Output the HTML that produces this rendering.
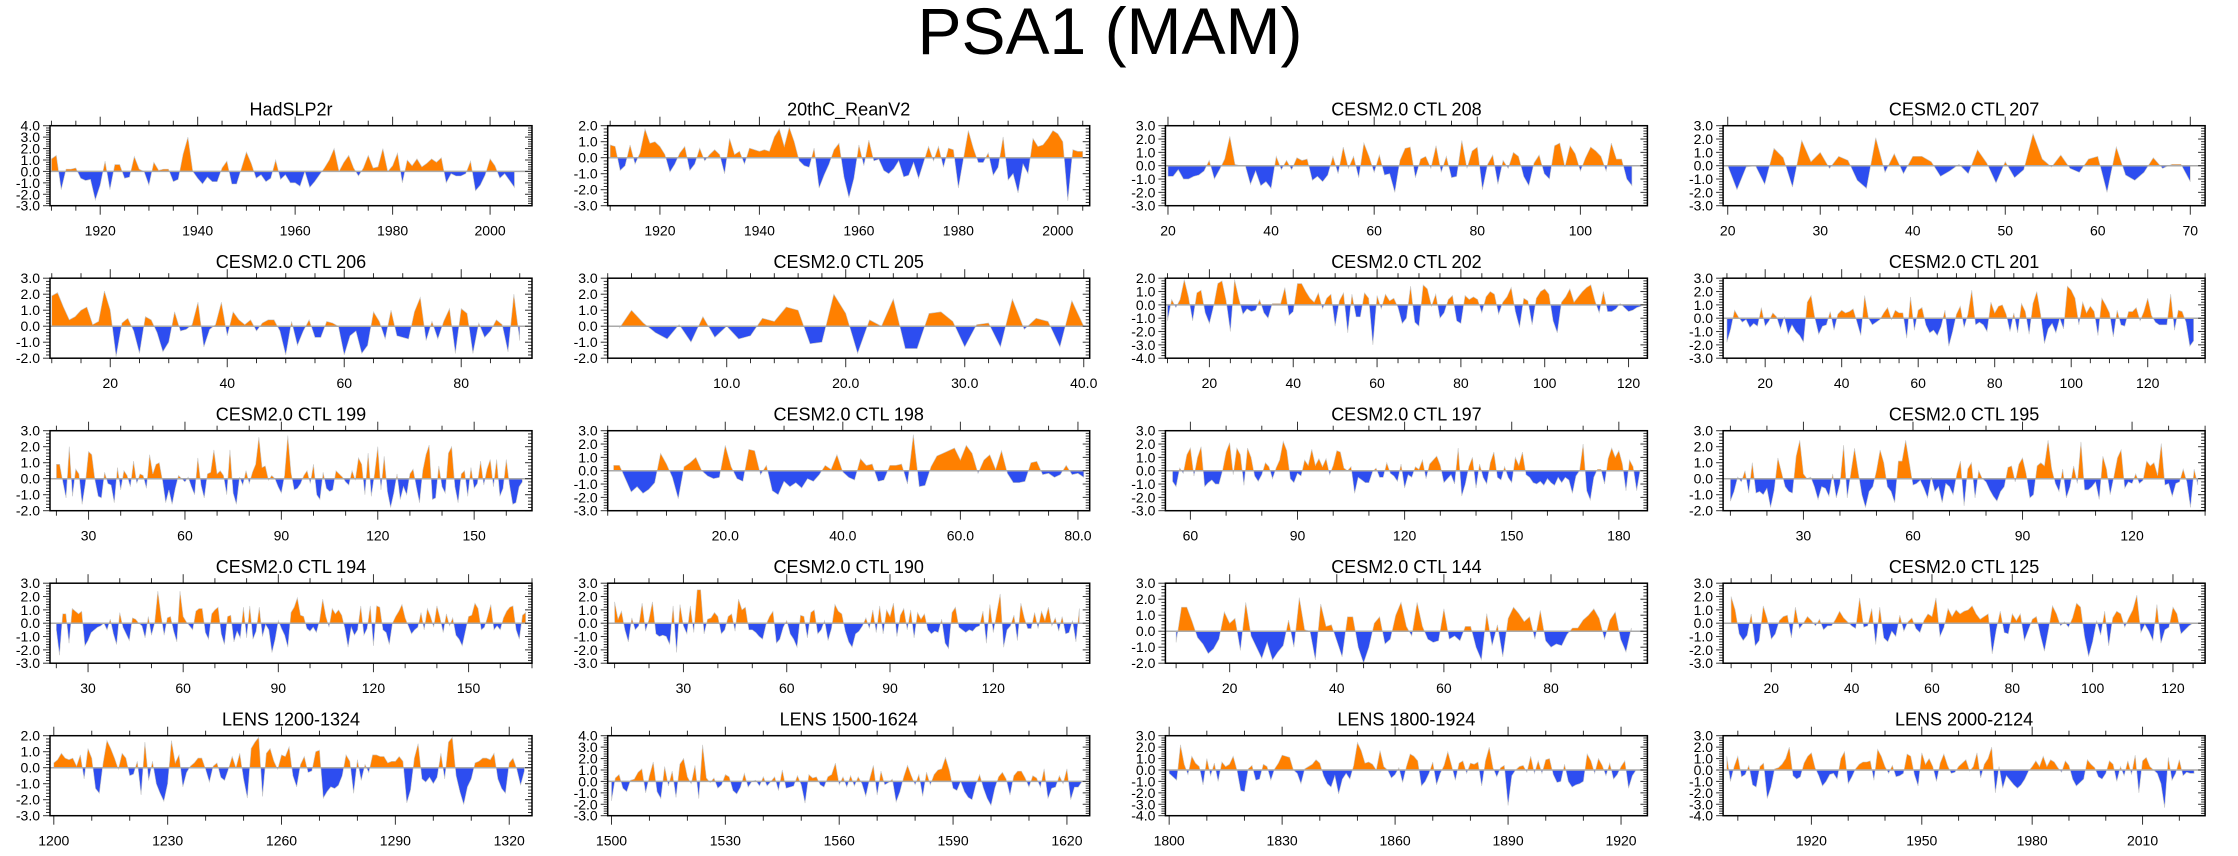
<!DOCTYPE html>
<html><head><meta charset="utf-8"><style>
html,body{margin:0;padding:0;background:#fff}
svg{display:block;font-family:"Liberation Sans",Arial,sans-serif}
</style></head><body>
<svg id="chart" width="2238" height="856" viewBox="0 0 2238 856" xmlns="http://www.w3.org/2000/svg">
<text x="1110" y="54" font-size="66" text-anchor="middle">PSA1 (MAM)</text>
<g id="panels"></g>
</svg>
<script>
// ---- data ----
const titles=["HadSLP2r","20thC_ReanV2","CESM2.0 CTL 208","CESM2.0 CTL 207","CESM2.0 CTL 206","CESM2.0 CTL 205","CESM2.0 CTL 202","CESM2.0 CTL 201","CESM2.0 CTL 199","CESM2.0 CTL 198","CESM2.0 CTL 197","CESM2.0 CTL 195","CESM2.0 CTL 194","CESM2.0 CTL 190","CESM2.0 CTL 144","CESM2.0 CTL 125","LENS 1200-1324","LENS 1500-1624","LENS 1800-1924","LENS 2000-2124"];
const startYears=[1910,1910,20,20,10,1,10,10,20,1,55,10,20,10,10,10,1200,1500,1800,1897];
const xMins=[1909.7,1909.5,19.5,19.5,9.7,0,9.5,9,18,0,53,8,18,8,8,8,1199,1499,1799,1896];
const xMaxs=[2008.6,2006.4,113,71.6,92.1,40.5,124.5,135,168,82,188,140,170,148,98,128,1326,1626,1927,2027];
const yMins=[-3,-3,-3,-3,-2,-2,-4,-3,-2,-3,-3,-2,-3,-3,-2,-3,-3,-3,-4,-4];
const yMaxs=[4,2,3,3,3,3,2,3,3,3,3,3,3,3,3,3,2,4,3,3];
const xTickLabels=[
 [1920,1940,1960,1980,2000],[1920,1940,1960,1980,2000],[20,40,60,80,100],[20,30,40,50,60,70],
 [20,40,60,80],[10,20,30,40],[20,40,60,80,100,120],[20,40,60,80,100,120],
 [30,60,90,120,150],[20,40,60,80],[60,90,120,150,180],[30,60,90,120],
 [30,60,90,120,150],[30,60,90,120],[20,40,60,80],[20,40,60,80,100,120],
 [1200,1230,1260,1290,1320],[1500,1530,1560,1590,1620],[1800,1830,1860,1890,1920],[1920,1950,1980,2010]];
const xLabelDecimals=[0,0,0,0,0,1,0,0,0,1,0,0,0,0,0,0,0,0,0,0];

const vHad=[1.1,1.4,-1.6,0.2,0.2,0.3,-0.6,-0.8,-0.7,-2.5,-1.2,0.9,-1.6,0.6,0.6,-0.6,-0.5,1.3,0.2,0.0,-1.2,0.8,0.1,0.2,0.2,-0.9,-0.7,1.5,3.0,0.0,-0.6,-1.1,-0.5,-0.9,-0.9,0.3,0.9,-1.1,-1.1,0.3,1.7,0.7,-0.6,-0.3,-0.9,-0.6,1.0,-0.7,-0.3,-1.0,-1.0,-1.3,0.0,-1.4,-0.9,-0.3,0.3,1.0,2.0,0.0,0.8,1.4,0.3,-0.4,0.3,1.4,0.3,0.4,2.0,0.0,0.5,1.6,-1.0,1.0,0.5,1.1,0.4,0.7,1.1,0.8,1.2,-1.0,-0.2,-0.4,-0.4,-0.2,0.9,-1.7,-1.2,-0.3,1.1,0.5,-0.6,-0.2,-0.8,-1.4];
const v20C=[0.8,0.7,-0.8,-0.5,0.8,-0.4,0.3,1.8,0.9,1.0,0.7,0.2,-0.9,-0.4,0.3,0.7,-0.8,-0.4,0.6,-0.2,0.2,0.5,0.2,-1.0,1.2,0.2,0.4,-0.4,0.6,0.5,0.4,0.5,0.4,1.3,1.8,0.7,1.9,1.0,-0.2,-0.5,-0.6,0.6,-1.9,-1.1,-0.4,0.5,0.9,-1.2,-2.5,-1.3,0.8,-0.5,1.1,-0.2,-0.1,-0.8,-1.0,-0.7,-0.2,-1.2,-1.1,-0.3,-1.3,-0.3,0.7,-0.2,0.7,-0.6,0.6,0.5,-1.9,-0.1,1.7,0.6,-0.3,-0.3,0.3,-1.1,-0.6,1.3,-1.4,-1.0,-2.2,-0.4,-1.0,1.2,0.7,0.8,1.2,1.7,1.5,1.0,-2.7,0.5,0.4,0.4];
const v208=[-0.8,-0.8,-0.3,-1.0,-1.0,-0.8,-0.7,-0.4,0.4,-1.0,-0.3,0.5,2.2,0.1,0.0,0.0,-1.4,-0.4,-1.5,-1.2,-1.7,0.7,-0.3,0.4,-0.3,0.6,0.4,0.5,-1.1,-0.8,-1.2,-0.7,0.7,-0.6,1.4,-0.2,0.7,-0.9,1.7,0.7,-0.5,0.8,-0.7,-0.6,-2.0,0.4,1.3,1.4,-0.9,0.5,0.7,-0.2,1.5,-0.5,0.7,-0.9,-0.8,1.9,-0.2,1.1,1.4,-1.8,0.1,0.8,-1.4,0.4,-0.2,1.0,0.7,-0.8,-1.5,0.2,0.8,-0.6,-1.0,1.5,1.7,-0.1,1.5,0.9,-0.4,0.6,1.4,1.1,0.7,-0.4,1.7,0.5,0.5,-1.0,-1.5];
const v207=[0.0,-1.8,-0.1,0.0,-1.4,1.3,0.6,-1.6,1.9,0.3,1.0,-0.2,0.7,0.4,-1.1,-1.7,2.1,-0.5,0.9,-0.6,0.7,0.7,0.3,-0.8,-0.4,0.1,-0.6,1.2,0.2,-1.3,0.3,-0.9,-0.3,2.4,0.5,-0.1,0.8,-0.2,-0.5,0.5,0.7,-2.0,1.4,-0.7,-1.1,-0.5,0.6,-0.2,0.1,0.1,-1.2];
const v206=[1.9,2.1,1.2,0.4,0.6,1.0,1.2,0.1,0.3,2.2,1.0,-1.9,0.2,0.5,-0.3,-1.7,0.6,0.4,-0.4,-1.6,-1.0,0.9,-0.3,-0.2,0.1,1.5,-1.3,-0.2,0.1,1.5,-0.6,0.9,0.4,0.1,0.4,-0.3,0.2,0.4,0.4,-0.3,-1.8,0.3,-1.2,-0.3,0.4,-0.7,-0.7,0.3,0.2,0.0,-1.8,-0.6,-0.3,-1.7,-1.2,0.9,0.3,-0.8,1.0,-0.6,-0.7,-0.8,0.9,1.8,-0.9,0.3,-0.8,0.3,1.1,-1.7,1.1,0.8,-1.7,0.2,-0.7,-0.3,0.4,0.1,-1.6,2.0,-0.9];
const v205=[-0.1,1.0,0.2,-0.4,-0.8,0.1,-1.0,0.6,-0.7,0.0,-0.8,-0.6,0.5,0.3,1.2,1.0,-1.1,-1.0,2.0,0.8,-1.7,0.4,0.0,1.7,-1.4,-1.4,0.8,0.9,0.3,-1.3,0.1,0.2,-1.3,1.7,-0.2,0.5,0.3,-1.3,1.6,0.0];
const v202=[-1.2,0.4,-0.2,0.4,1.9,0.6,-1.2,0.9,1.1,-0.6,-1.4,-0.1,1.6,1.8,0.3,-2.0,1.9,0.5,-0.7,-0.3,-0.5,-0.4,0.4,-0.6,-1.0,0.1,0.1,0.1,1.3,-0.8,-0.5,1.6,1.6,1.0,0.5,0.2,0.9,-0.3,0.5,0.8,-1.6,0.3,0.9,-2.1,0.8,-0.9,-0.9,0.9,0.5,-3.0,0.7,-0.3,0.8,0.3,0.5,-0.2,-1.4,-1.0,1.4,-1.3,-1.6,1.5,1.2,-0.1,0.8,-1.0,-0.6,0.4,0.7,-1.2,-1.4,0.7,0.4,0.6,0.4,-0.6,0.6,1.0,0.8,-0.7,0.2,0.6,1.3,-0.5,-1.7,0.5,0.3,-1.5,0.5,1.0,1.2,0.8,-1.2,-2.1,0.2,0.6,1.2,0.2,0.6,1.0,1.3,1.5,0.3,-0.6,1.0,-0.5,-0.5,-0.3,0.1,-0.2,-0.5,-0.4,-0.2,-0.1];
const v201=[-1.8,-0.8,0.6,0.1,-0.3,-0.1,-0.7,-0.4,-0.6,0.8,-0.6,-0.2,0.4,0.1,-0.8,0.1,-1.2,-0.5,-1.0,-1.3,-1.8,1.2,1.7,0.0,-1.2,-0.6,-0.5,0.5,-0.9,0.3,0.6,0.4,0.5,0.7,-0.3,-1.3,1.7,0.0,-0.5,-0.3,-0.1,0.4,0.8,-0.1,0.6,0.4,0.4,-1.5,1.6,-0.9,0.6,0.8,-0.5,-1.1,-0.9,-1.3,-0.6,0.6,-2.1,-1.0,0.3,0.9,-0.7,0.3,2.1,-0.5,-0.3,-0.5,-1.0,1.2,0.4,0.9,1.0,0.3,-1.0,0.4,-1.1,1.1,0.5,-1.2,1.1,2.0,0.3,-1.9,-0.8,-0.4,-1.1,0.0,-0.8,2.4,2.1,1.5,-0.5,1.2,0.4,0.9,0.5,-1.3,1.5,1.0,0.4,-1.4,0.6,-0.5,-0.6,0.5,0.5,0.8,-0.2,0.5,1.5,0.2,-0.3,-0.5,-0.5,-0.5,1.8,-0.9,0.6,0.5,-0.3,-2.1,-1.7];
const v199=[0.9,0.9,-0.2,-1.2,2.0,-1.1,0.6,0.3,-1.6,-0.3,1.7,1.5,-0.1,-1.1,-1.2,0.4,-0.3,-0.4,-1.5,0.7,-0.7,0.5,0.2,-0.5,1.1,-0.3,0.3,0.2,-0.6,1.5,0.3,0.9,1.0,-0.1,-1.5,-0.7,-1.6,-0.6,0.2,0.0,-0.2,0.1,-0.5,-1.0,1.3,-0.4,-1.2,0.3,0.4,1.8,0.3,0.5,0.2,-1.0,1.8,-0.9,-1.6,0.1,-0.4,0.5,-0.3,0.4,0.9,2.6,0.7,0.8,-0.1,0.2,0.0,-0.5,-0.9,0.2,2.7,0.4,-0.7,-0.6,-0.3,0.2,0.5,-0.3,0.9,-1.0,-1.3,0.4,-0.6,-0.8,-0.7,0.5,0.3,0.1,-0.2,-0.4,0.5,-0.1,1.3,0.9,-1.0,1.6,-1.1,0.3,2.0,-0.7,1.4,-0.8,-1.8,-0.9,0.3,-1.3,-0.5,-1.0,0.3,0.6,-0.5,-1.5,0.5,1.5,2.1,-1.3,-1.2,0.8,-0.5,-0.9,1.6,2.0,-0.5,-1.5,0.3,0.5,-1.1,0.7,-0.6,-0.3,1.1,-0.4,0.6,1.2,-0.5,1.2,-1.1,-0.6,1.2,-0.4,-1.6,-1.5,-0.5,-0.2];
const v198=[0.4,0.4,-0.6,-1.6,-1.2,-1.7,-1.4,-0.9,1.3,0.5,-0.5,-2.1,0.3,0.6,1.0,0.0,-0.4,-0.6,-0.5,1.9,0.3,-0.6,-0.8,1.6,1.5,-0.3,0.4,-1.5,-1.8,-0.8,-1.2,-0.9,-1.3,-0.6,-0.8,-0.3,0.4,0.1,1.2,-0.1,-0.5,-0.7,0.9,0.4,0.5,-0.8,-0.7,0.4,0.4,0.5,-1.0,2.7,-1.2,-1.1,0.3,1.1,1.3,1.5,1.7,0.8,1.9,1.3,-0.2,0.8,1.2,0.1,1.5,-0.2,-0.9,-0.9,-0.8,0.6,0.7,-0.3,-0.2,-0.5,-0.3,0.4,-0.3,-0.2,-0.5];
const v197=[-0.8,-1.2,0.2,-0.2,1.2,1.7,-0.4,1.0,1.8,-1.2,-0.9,-0.7,-1.0,-1.0,0.0,1.4,2.1,-0.3,1.7,1.2,-1.1,1.7,1.0,-0.4,-0.8,-0.3,0.6,0.3,-0.6,0.2,0.8,2.2,1.5,-0.6,-0.9,-0.2,-0.4,0.8,0.4,1.6,0.4,0.9,0.3,0.9,-0.3,0.4,1.5,1.4,0.2,0.0,0.3,-1.7,-0.5,-0.7,-0.9,-0.9,-0.1,0.2,-0.5,-0.5,0.6,-0.2,-0.4,-0.8,0.5,-1.3,-0.3,-0.5,0.3,0.1,0.8,-0.6,0.5,0.8,1.1,0.4,-0.9,-0.6,-0.3,-1.0,1.7,-1.9,-1.0,0.3,1.0,-1.3,0.5,-0.5,-1.0,0.6,1.4,-0.5,-0.7,0.3,-0.5,-0.9,1.0,0.4,1.4,-0.3,-0.5,-0.9,-1.0,-0.8,-1.1,-0.6,-0.9,-1.1,-0.5,-0.9,-0.5,-0.7,-1.7,-0.4,0.0,2.0,-1.5,-2.2,-0.5,0.1,0.1,-1.0,0.9,1.7,1.0,1.5,0.5,-1.5,0.8,0.3,-1.5,0.1];
const v195=[-1.4,-0.8,0.1,-0.2,0.5,-0.9,1.0,-0.9,-0.8,-1.0,-0.6,-1.8,-0.7,1.3,0.4,-0.5,-0.8,-0.9,1.4,2.4,0.3,0.0,0.1,-0.5,-1.3,-0.5,-0.6,-1.1,0.3,-1.2,-0.3,2.1,-1.2,0.4,1.9,0.4,-1.0,-1.8,-0.8,-0.5,0.5,1.8,1.0,-0.5,-0.8,-1.5,1.1,1.1,2.4,1.0,-0.4,-0.3,-0.1,-0.6,-1.2,0.1,-0.8,-0.5,-1.5,-0.3,-0.5,-1.0,0.3,1.1,-1.7,0.6,1.0,-1.2,0.5,0.0,-0.2,-0.7,-1.1,-1.4,-0.8,-0.5,0.7,0.8,-0.2,0.9,1.3,0.3,-1.2,-1.0,0.8,1.0,0.8,2.4,0.6,-0.3,-0.8,0.6,-1.2,-0.5,0.8,-0.3,2.3,-0.7,-0.7,-0.5,-0.2,-1.3,1.4,0.6,-1.0,0.1,1.3,1.8,-0.6,-0.2,-0.3,0.3,-0.3,-0.1,1.1,0.8,1.0,0.2,2.2,-0.4,-0.3,-1.1,-0.3,-0.2,0.6,-0.2,-1.8,0.6,-0.4];
const v194=[-0.5,-2.4,0.7,0.7,-1.5,1.1,0.9,0.7,0.9,-1.7,-1.3,-0.7,-0.5,-0.3,-0.2,0.0,-0.5,0.3,-0.8,-1.6,0.8,-0.3,-0.8,-1.3,0.4,0.3,0.0,-0.2,-1.1,0.5,-0.9,0.0,2.4,0.6,-0.9,0.4,0.5,-0.6,-1.4,2.4,0.5,0.1,-0.2,-0.5,0.9,1.1,1.1,-0.7,-1.2,0.7,1.0,1.2,-0.8,-1.6,0.5,0.6,-1.4,-0.6,-1.1,1.2,-1.1,1.3,-1.2,-0.6,1.2,-1.0,-0.1,-0.5,-2.2,-1.2,0.2,-0.4,-0.9,-1.8,0.8,1.2,1.9,0.6,0.5,-0.4,-0.6,-0.3,-0.7,0.2,1.8,0.5,-0.3,1.1,0.7,1.0,0.6,-0.4,-1.8,-0.3,-0.9,-0.5,1.3,-0.9,-0.4,1.3,-1.7,1.3,1.2,-0.5,-0.7,-1.6,0.0,0.5,0.9,1.4,0.4,-0.2,-0.8,-0.5,-0.3,0.8,-0.5,1.1,0.5,-0.3,1.3,0.4,-0.7,0.7,-0.2,0.4,-0.9,-1.2,-1.7,-0.6,0.5,0.6,1.5,1.1,-0.5,-0.3,0.5,1.4,-0.5,-0.2,-0.5,0.4,0.9,1.2,1.3,-0.5,-1.2,0.6,0.8];
const v190=[1.6,0.3,0.9,-0.5,-1.4,0.4,-0.5,-0.2,1.5,-0.6,0.3,1.6,-0.8,-1.0,-0.9,-1.0,-1.6,1.3,-2.2,1.4,-0.2,-0.8,1.3,-0.7,2.5,2.5,-0.8,0.3,0.4,0.8,0.5,-0.8,-0.5,0.5,0.7,-0.6,1.8,1.0,1.2,-0.5,-0.5,-0.7,-1.0,-1.2,-0.1,0.5,0.9,-1.5,-1.2,-0.3,0.2,-0.8,-1.2,-1.8,0.6,0.5,-1.1,0.8,1.0,-0.8,-0.5,0.2,-1.3,-0.4,1.4,0.9,0.7,-0.6,-1.4,-1.8,-0.8,-0.6,-0.2,0.4,-0.4,1.0,-0.7,1.3,-0.8,1.0,0.5,1.5,-1.0,0.6,1.1,-0.5,1.0,-1.1,0.8,0.3,0.7,-0.5,-0.8,-0.6,-0.7,0.3,-1.5,-1.9,0.8,1.2,-0.3,-0.5,-0.7,-0.5,-0.6,-0.3,-0.2,0.9,-1.5,1.4,-0.7,0.8,2.2,-1.8,-0.5,-0.2,0.6,-1.3,1.5,0.4,-0.4,-0.4,0.8,-0.4,0.9,0.2,1.2,-0.2,0.4,-0.6,0.5,-0.8,-0.7,0.2,-1.4,1.1];
const v144=[-0.7,1.5,1.5,0.6,-0.4,-0.8,-1.4,-1.1,-0.5,1.2,0.5,0.8,-1.2,1.8,-0.3,-1.0,-1.7,-0.7,-1.8,-1.3,-0.9,0.7,-1.0,2.1,0.1,0.0,-1.8,1.7,0.3,0.4,-0.6,-1.6,0.9,0.9,-1.0,-2.0,-1.0,0.5,0.9,-0.8,-0.5,1.0,1.8,0.3,-0.3,1.8,0.3,-0.5,-0.7,-0.6,1.4,-0.5,-0.3,-0.6,0.3,0.3,-1.0,-1.8,1.1,-0.9,0.4,-1.6,0.8,1.5,1.1,0.6,0.9,-0.5,1.3,-0.6,-1.0,-0.8,-0.9,-0.2,0.2,0.2,0.7,1.0,1.4,0.8,-0.5,0.7,1.2,-0.5,-1.3,0.2];
const v125=[2.0,1.0,-0.8,-1.3,-0.9,0.7,-1.7,-1.3,1.3,0.3,-1.2,-0.8,0.2,0.5,0.6,-1.1,1.2,-0.4,0.0,0.5,0.2,-0.2,0.3,-0.5,-0.2,-0.2,0.3,0.9,0.4,0.1,-0.2,-0.4,1.9,-0.3,-0.2,1.1,-1.6,1.2,-1.1,-1.4,-0.6,-1.0,0.6,-0.6,0.1,0.4,-0.4,-0.7,0.2,0.7,0.5,1.9,-1.0,-0.3,1.1,0.5,1.0,0.7,0.9,1.0,1.3,0.7,0.3,0.5,0.7,-2.3,-0.5,0.9,-0.7,-0.8,0.7,0.2,0.7,-1.3,-0.5,0.3,0.5,-0.9,-2.1,-0.5,1.3,0.7,-0.2,0.1,-0.3,0.4,1.5,1.2,-1.0,-2.5,-1.4,0.2,-0.9,0.9,-1.7,0.4,0.9,0.7,-0.3,0.4,1.0,2.1,-0.7,-0.1,-0.6,-1.3,1.4,-1.5,-0.5,-0.3,1.2,0.7,-0.8,-0.5,-0.2,0.0];
const vL1200=[0.3,0.5,0.9,0.6,0.5,0.6,0.1,0.8,-0.7,1.2,0.6,-1.3,-1.6,0.3,1.7,1.2,0.6,-0.1,0.9,0.6,-0.5,-0.4,0.4,-1.7,1.6,-0.8,0.4,-1.0,-1.6,-2.1,-1.0,1.7,0.3,0.8,-1.2,-0.3,0.1,0.3,0.6,0.6,-0.1,-0.9,0.1,0.3,-0.6,-0.8,-0.1,0.7,0.0,0.9,-0.7,-1.9,1.2,1.6,1.9,-1.8,0.9,1.2,0.4,-0.1,0.8,0.7,1.3,-0.5,-1.2,0.2,0.7,-0.3,-0.2,1.0,1.1,-1.9,-1.5,-1.2,-1.3,-1.1,-0.5,0.8,0.4,-1.6,0.5,-0.8,0.2,-0.3,0.8,0.8,0.7,0.7,0.3,0.4,0.4,0.7,0.4,-2.2,-1.4,0.6,1.5,-0.7,-0.9,-0.6,-1.0,-0.6,0.9,-0.7,1.6,1.9,-0.5,-1.5,-2.3,-1.2,-0.7,0.3,0.4,0.6,0.6,0.5,0.9,-0.7,-1.3,-1.6,0.3,0.6,-0.1,-1.1,-0.2];
const vL1500=[-1.7,0.3,0.6,-0.6,-0.9,0.1,0.2,0.8,1.1,-1.0,0.5,1.7,-0.9,-1.5,1.3,-0.4,0.9,-1.4,1.5,2.0,0.4,-0.2,1.4,-1.5,3.2,0.3,-0.1,0.3,-0.6,-0.3,0.6,0.4,-0.8,-1.1,-0.5,0.7,-0.5,0.0,0.1,-0.4,0.4,-0.4,0.0,0.4,-0.8,1.0,-0.6,-0.5,-0.4,0.5,-0.3,-1.9,0.6,0.3,0.4,-0.3,-0.5,0.4,0.6,1.6,-0.3,0.4,-0.5,0.5,-0.4,0.4,-0.2,-1.3,0.2,1.4,-1.2,0.9,-0.3,-0.1,0.2,-1.8,-0.9,0.4,1.4,0.5,-0.3,0.6,-1.3,0.8,-0.3,0.6,1.0,1.1,2.1,1.0,-0.6,-0.8,0.0,-0.9,-1.4,-1.6,-0.3,0.6,-0.6,-1.5,-2.1,-0.6,0.4,0.8,0.2,-1.2,0.5,0.9,0.9,0.3,-0.5,0.5,0.3,-0.5,1.1,-1.5,-0.6,-0.5,0.5,-0.2,1.1,-1.6,-0.5,-0.5,0.0];
const vL1800=[-0.3,-0.6,-0.9,2.2,0.5,-0.4,1.2,0.6,0.3,-1.3,1.0,-0.5,0.6,-1.0,0.7,0.3,0.5,1.2,0.0,-1.8,-1.9,0.1,0.4,-0.9,-0.8,0.5,0.3,-0.9,0.1,0.6,1.3,1.2,1.1,0.0,-0.3,-1.2,0.1,0.3,0.5,0.9,0.6,-0.5,-1.2,-1.5,-0.5,-2.1,-0.8,-0.3,-0.8,0.4,2.4,1.7,0.6,0.7,0.5,0.0,1.7,0.3,0.0,-0.7,-0.4,0.2,-1.1,0.3,1.4,1.2,0.8,-1.4,-1.0,-0.3,0.7,-1.3,-0.3,0.4,1.6,0.4,-0.9,0.6,0.8,-0.3,0.6,0.5,0.7,-1.4,0.8,2.0,0.2,-0.6,0.2,0.4,-3.1,-0.5,0.0,0.3,0.4,-0.2,1.2,-0.3,0.8,-0.3,0.9,1.0,-0.4,-1.1,-1.0,0.5,-1.0,-1.5,-1.3,-1.2,-1.0,1.4,0.8,-0.3,1.0,0.4,-0.5,0.6,-0.8,-0.4,0.3,0.8,-1.6,-0.5,0.0];
const vL2000=[1.2,-1.0,0.3,1.2,-0.6,-0.4,0.4,-1.3,-1.5,0.3,0.6,-2.5,-1.5,0.1,0.2,0.5,1.0,2.0,-0.5,-0.8,-0.6,0.6,1.2,1.5,0.2,-0.5,-1.4,-1.0,-0.4,-0.3,-0.8,1.0,1.6,-1.2,-0.6,0.1,0.5,0.7,0.7,0.8,-0.9,1.8,1.2,0.3,-0.3,0.4,-0.6,-0.5,-0.3,1.4,1.2,-0.4,-1.4,1.5,0.5,1.0,0.3,-1.0,0.6,1.4,0.4,-0.3,-0.2,0.3,0.6,0.9,-0.1,0.3,1.5,-0.7,0.5,1.0,2.0,-2.0,0.3,-1.6,-0.5,-0.9,-1.3,-1.6,-1.3,-0.8,-0.1,0.3,0.8,0.3,1.2,0.3,0.9,0.7,0.2,-0.2,0.8,0.4,-0.8,-1.4,-1.1,-0.8,0.9,0.5,0.2,-0.6,-0.8,-0.3,0.8,0.5,-1.0,0.3,-0.5,0.8,-0.4,1.3,-2.0,0.8,1.1,0.3,0.0,-0.3,-1.2,-3.3,1.1,-0.9,-0.3,0.9,-0.5,-0.2,-0.3,-0.3];

const seriesValues=[vHad,v20C,v208,v207,v206,v205,v202,v201,v199,v198,v197,v195,v194,v190,v144,v125,vL1200,vL1500,vL1800,vL2000];

// ---- drawing ----
const NS='http://www.w3.org/2000/svg';
const root=document.getElementById('panels');
const PW=482,PH=80,X0=50,DX=557.7,Y0=125.7,DY=152.5;
function el(tag,parent){const e=document.createElementNS(NS,tag);parent.appendChild(e);return e;}
function setA(e,o){for(const k in o)e.setAttribute(k,o[k]);}

seriesValues.forEach((vals,i)=>{
  const col=i%4,row=Math.floor(i/4);
  const px=X0+col*DX,py=Y0+row*DY;
  const xmin=xMins[i],xmax=xMaxs[i],ymin=yMins[i],ymax=yMaxs[i];
  const sx=v=>px+(v-xmin)/(xmax-xmin)*PW;
  const sy=v=>py+PH-(v-ymin)/(ymax-ymin)*PH;
  const g=el('g',root);
  
  
  const t=el('text',g);setA(t,{x:px+PW/2,y:py-10,'font-size':18,'text-anchor':'middle'});t.textContent=titles[i];
  
  
  const defs=el('defs',g);
  const cpA=el('clipPath',defs);cpA.id='ca'+i;const ra=el('rect',cpA);setA(ra,{x:px,y:py,width:PW,height:sy(0)-py});
  const cpB=el('clipPath',defs);cpB.id='cb'+i;const rb=el('rect',cpB);setA(rb,{x:px,y:sy(0),width:PW,height:py+PH-sy(0)});
  let d='M'+sx(startYears[i]).toFixed(2)+','+sy(0).toFixed(2);
  vals.forEach((v,k)=>{d+=' L'+sx(startYears[i]+k).toFixed(2)+','+sy(v).toFixed(2);});
  d+=' L'+sx(startYears[i]+vals.length-1).toFixed(2)+','+sy(0).toFixed(2)+' Z';
  const pa=el('path',g);setA(pa,{d:d,fill:'#ff8000',stroke:'#c8c8c8','stroke-width':0.6,'clip-path':'url(#ca'+i+')'});
  
  
  const pb=el('path',g);setA(pb,{d:d,fill:'#2d4df0',stroke:'#c8c8c8','stroke-width':0.6,'clip-path':'url(#cb'+i+')'});
  
  
  const zl=el('line',g);setA(zl,{x1:px,x2:px+PW,y1:sy(0),y2:sy(0),stroke:'#aaaaaa','stroke-width':1.5});
  
  
  const ticks=el('g',g);setA(ticks,{stroke:'#333','stroke-width':1});
  
  
  for(let k=0;k<=(ymax-ymin)*5;k++){
    const v=ymin+k*0.2,maj=(k%5===0),y=sy(v),L=maj?7:4;
    const a=el('line',ticks);setA(a,{x1:px-L,x2:px,y1:y,y2:y});
    const b=el('line',ticks);setA(b,{x1:px+PW-L,x2:px+PW,y1:y,y2:y});
    if(maj){const lt=el('text',g);setA(lt,{x:px-10,y:y+5,'font-size':14,'text-anchor':'end'});lt.textContent=v.toFixed(1);
      
      }
  }
  const xt=xTickLabels[i],step=xt[1]-xt[0];
  const minor=step%30===0?step/3:(step%20===0?step/4:step/5);
  let start=Math.ceil(xmin/minor)*minor;
  for(let v=start;v<=xmax+1e-9;v+=minor){
    const isMaj=xt.some(m=>Math.abs(m-v)<1e-6);const x=sx(v),L=isMaj?9:5;
    const a=el('line',ticks);setA(a,{x1:x,x2:x,y1:py+PH,y2:py+PH+L});
    const b=el('line',ticks);setA(b,{x1:x,x2:x,y1:py,y2:py-L});
  }
  xt.forEach(m=>{const lt=el('text',g);setA(lt,{x:sx(m),y:py+PH+30,'font-size':14,'text-anchor':'middle'});lt.textContent=m.toFixed(xLabelDecimals[i]);
    
    });
  const box=el('rect',g);setA(box,{x:px,y:py,width:PW,height:PH,fill:'none',stroke:'#000','stroke-width':1.5});
  
  
});
</script>
</body></html>
